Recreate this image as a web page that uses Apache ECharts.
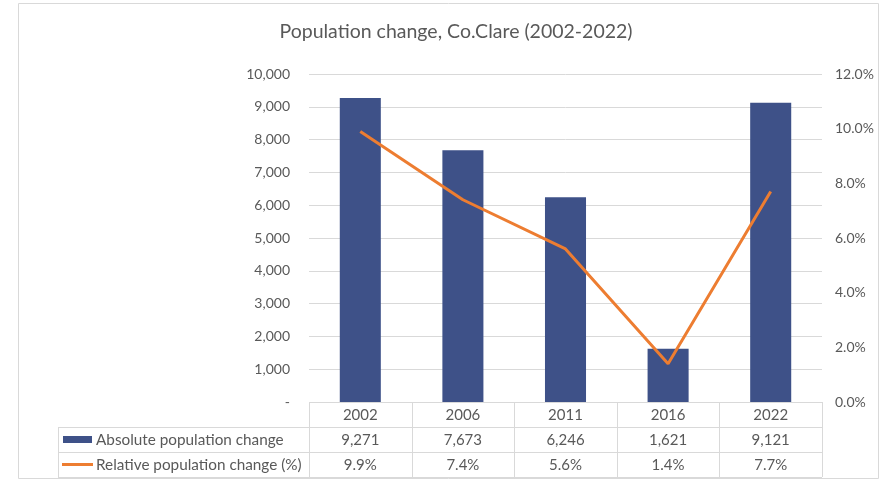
<!DOCTYPE html>
<html><head><meta charset="utf-8">
<script src="https://cdn.jsdelivr.net/npm/echarts@6/dist/echarts.min.js"></script>
<style>html,body{margin:0;padding:0;background:#fff}#c{width:883px;height:481px}</style>
</head><body><div id="c"></div>
<script>
var categories = ['2002', '2006', '2011', '2016', '2022'];
var absoluteChange = [9271, 7673, 6246, 1621, 9121];
var relativeChange = [9.9, 7.4, 5.6, 1.4, 7.7];
var seriesNames = ['Absolute population change', 'Relative population change (%)'];
var titleText = 'Population change, Co.Clare (2002-2022)';

var FONT = 'Lato, "Open Sans", sans-serif';
var TXT = '#595959';
var LINE = '#D9D9D9';
var BLUE = '#3E5188';
var ORANGE = '#ED7D31';

function fmtNum(v) { return v === 0 ? '-' : v.toLocaleString('en-US'); }
function fmtPct(v) { return v.toFixed(1) + '%'; }

var chart = echarts.init(document.getElementById('c'));
var G = { left: 309, right: 61, top: 74, bottom: 79 };
chart.setOption({
  animation: false,
  title: { text: titleText, left: 451, top: 17, textAlign: 'center',
    textStyle: { fontFamily: FONT, fontSize: 19.5, fontWeight: 'normal', color: TXT } },
  grid: G,
  xAxis: { type: 'category', data: categories,
    axisLine: { show: false }, axisTick: { show: false }, axisLabel: { show: false } },
  yAxis: [
    { type: 'value', min: 0, max: 10000, interval: 1000,
      axisLine: { show: false }, axisTick: { show: false },
      splitLine: { lineStyle: { color: LINE, width: 1 } },
      axisLabel: { formatter: fmtNum, color: TXT, fontFamily: FONT, fontSize: 14, margin: 19 } },
    { type: 'value', min: 0, max: 12, interval: 2,
      axisLine: { show: false }, axisTick: { show: false }, splitLine: { show: false },
      axisLabel: { formatter: fmtPct, color: TXT, fontFamily: FONT, fontSize: 14, margin: 13 } }
  ],
  series: [
    { name: seriesNames[0], type: 'bar', data: absoluteChange, barWidth: '40%',
      itemStyle: { color: BLUE } },
    { name: seriesNames[1], type: 'line', yAxisIndex: 1, data: relativeChange,
      showSymbol: false, symbol: 'none', lineStyle: { color: ORANGE, width: 3 } }
  ]
});

// Data table below the plot
var top0 = 402, rowH = 25, tableLeft = 58;
var gl = G.left, gr = 883 - G.right;
var bandW = (gr - gl) / categories.length;
var els = [];
els.push({ type: 'rect', shape: { x: 18.5, y: 3.5, width: 860, height: 475 },
  style: { fill: 'none', stroke: LINE, lineWidth: 1 }, silent: true, z: -1 });
els.push({ type: 'line', shape: { x1: gl, y1: top0 + 0.5, x2: gr, y2: top0 + 0.5 }, style: { stroke: LINE, lineWidth: 1 } });
for (var r = 1; r <= 3; r++) {
  var yy = top0 + r * rowH + 0.5;
  els.push({ type: 'line', shape: { x1: tableLeft, y1: yy, x2: gr, y2: yy }, style: { stroke: LINE, lineWidth: 1 } });
}
for (var c = 0; c <= categories.length; c++) {
  var xx = Math.round(gl + c * bandW) + 0.5;
  els.push({ type: 'line', shape: { x1: xx, y1: top0, x2: xx, y2: top0 + 3 * rowH }, style: { stroke: LINE, lineWidth: 1 } });
}
els.push({ type: 'line', shape: { x1: tableLeft + 0.5, y1: top0 + rowH, x2: tableLeft + 0.5, y2: top0 + 3 * rowH }, style: { stroke: LINE, lineWidth: 1 } });
categories.forEach(function (cat, i) {
  var cx = chart.convertToPixel({ xAxisIndex: 0 }, cat);
  var rows = [cat, absoluteChange[i].toLocaleString('en-US'), fmtPct(relativeChange[i])];
  rows.forEach(function (t, r) {
    els.push({ type: 'text', x: cx, y: top0 + r * rowH + rowH / 2 + 1,
      style: { text: t, fill: TXT, font: '15px ' + FONT, align: 'center', verticalAlign: 'middle' } });
  });
});
els.push({ type: 'rect', shape: { x: 63, y: top0 + rowH + 9, width: 29, height: 7 }, style: { fill: BLUE } });
els.push({ type: 'line', shape: { x1: 62, y1: top0 + 2 * rowH + 12.5, x2: 93, y2: top0 + 2 * rowH + 12.5 }, style: { stroke: ORANGE, lineWidth: 3 } });
seriesNames.forEach(function (n, k) {
  els.push({ type: 'text', x: 96, y: top0 + (k + 1) * rowH + rowH / 2 + 1,
    style: { text: n, fill: TXT, font: '15.3px ' + FONT, align: 'left', verticalAlign: 'middle' } });
});
chart.setOption({ graphic: { elements: els } });
</script>
</body></html>
